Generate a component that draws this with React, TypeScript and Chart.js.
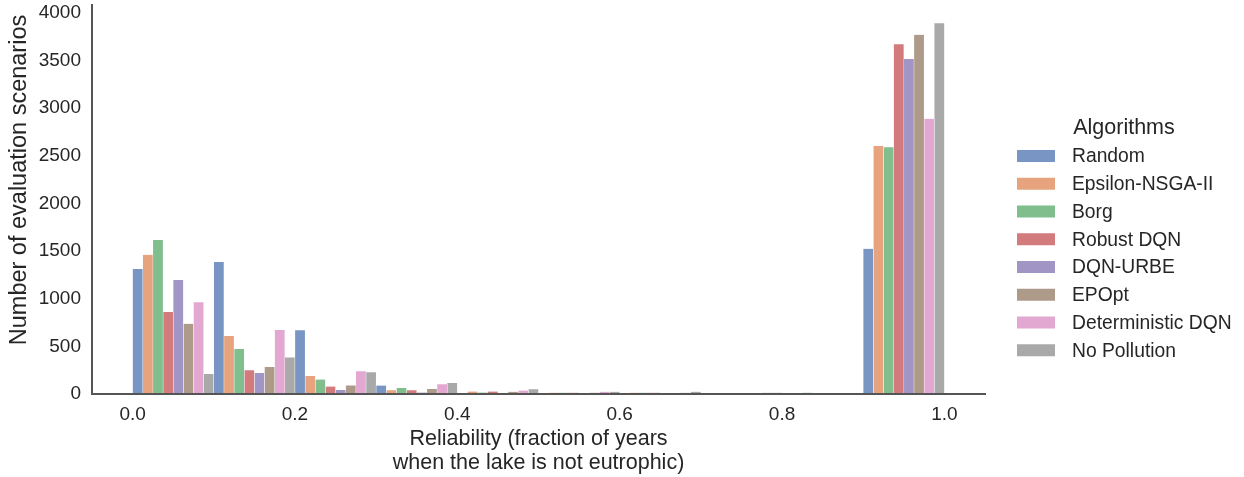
import { useEffect, useRef } from "react";
import { Chart, registerables } from "chart.js";

Chart.register(...registerables);

// ---- data ----
const binEdges = [0, 0.1, 0.2, 0.3, 0.4, 0.5, 0.6, 0.7, 0.8, 0.9, 1.0];
const algorithms = [
  "Random",
  "Epsilon-NSGA-II",
  "Borg",
  "Robust DQN",
  "DQN-URBE",
  "EPOpt",
  "Deterministic DQN",
  "No Pollution",
];
const randomCounts = [1312, 1386, 668, 88, 0, 0, 0, 0, 0, 1525];
const epsilonCounts = [1462, 609, 189, 39, 25, 14, 14, 0, 0, 2603];
const borgCounts = [1617, 472, 151, 63, 15, 14, 14, 0, 14, 2589];
const robustDqnCounts = [861, 248, 78, 39, 25, 14, 14, 0, 0, 3671];
const dqnUrbeCounts = [1197, 220, 42, 15, 0, 0, 0, 0, 0, 3517];
const epoptCounts = [738, 283, 90, 52, 24, 14, 0, 0, 0, 3772];
const deterministicDqnCounts = [962, 672, 238, 101, 37, 24, 14, 14, 0, 2890];
const noPollutionCounts = [210, 384, 228, 115, 50, 24, 24, 14, 0, 3891];
const seriesCounts = [
  randomCounts,
  epsilonCounts,
  borgCounts,
  robustDqnCounts,
  dqnUrbeCounts,
  epoptCounts,
  deterministicDqnCounts,
  noPollutionCounts,
];
const colors = [
  "rgba(76,114,176,0.75)",
  "rgba(221,132,82,0.75)",
  "rgba(85,168,104,0.75)",
  "rgba(196,78,82,0.75)",
  "rgba(129,114,179,0.75)",
  "rgba(147,120,96,0.75)",
  "rgba(218,139,195,0.75)",
  "rgba(140,140,140,0.75)",
];
const xTicks = [0, 0.2, 0.4, 0.6, 0.8, 1.0];
const yTicks = [0, 500, 1000, 1500, 2000, 2500, 3000, 3500, 4000];
const legendTitle = "Algorithms";
const xTitle = ["Reliability (fraction of years", "when the lake is not eutrophic)"];
const yTitle = "Number of evaluation scenarios";

// ---- style ----
const FONT = "'Liberation Sans', Arial, Helvetica, sans-serif";
const TEXT = "#262626";
const SPINE = "#555555";

const sideLegend = {
  id: "sideLegend",
  afterDraw(chart: any) {
    const ctx = chart.ctx;
    const x0 = chart.chartArea.right + 32;
    ctx.save();
    ctx.fillStyle = TEXT;
    ctx.textBaseline = "middle";
    ctx.textAlign = "center";
    ctx.font = `21.5px ${FONT}`;
    ctx.fillText(legendTitle, x0 + 107, 128.5);
    ctx.font = `19.3px ${FONT}`;
    ctx.textAlign = "left";
    chart.data.datasets.forEach((ds: any, i: number) => {
      const y = 156 + i * 27.75;
      ctx.fillStyle = ds.backgroundColor;
      ctx.fillRect(x0, y - 6, 38, 12);
      ctx.fillStyle = TEXT;
      ctx.fillText(ds.label, x0 + 55, y + 1);
    });
    // y axis title
    ctx.translate(20, 180);
    ctx.rotate(-Math.PI / 2);
    ctx.textAlign = "center";
    ctx.font = `23.5px ${FONT}`;
    ctx.fillStyle = TEXT;
    ctx.fillText(yTitle, 0, 0);
    ctx.restore();
  },
};

export default function App() {
  const ref = useRef<HTMLCanvasElement | null>(null);

  useEffect(() => {
    if (!ref.current) return;
    const centers = binEdges.slice(0, -1).map((e, i) => (e + binEdges[i + 1]) / 2);
    const datasets = algorithms.map((name, k) => ({
      label: name,
      data: centers.map((c, i) => ({ x: c, y: seriesCounts[k][i] })),
      backgroundColor: colors[k],
      borderColor: "#ffffff",
      borderWidth: { left: 0.5, right: 0.5, top: 0.3, bottom: 0 },
      categoryPercentage: 1,
      barPercentage: 1,
    }));

    const chart = new Chart(ref.current, {
      type: "bar",
      data: { datasets },
      plugins: [sideLegend],
      options: {
        animation: false,
        responsive: false,
        layout: { padding: { top: 5, right: 259, left: 0, bottom: 0 } },
        plugins: { legend: { display: false }, tooltip: { enabled: false } },
        scales: {
          x: {
            type: "linear",
            min: -0.05,
            max: 1.05,
            offset: false,
            grid: { display: false, drawTicks: false, offset: false },
            border: { display: true, color: SPINE, width: 2, z: 1 },
            afterBuildTicks: (scale: any) => {
              scale.ticks = xTicks.map((v) => ({ value: v }));
            },
            afterFit: (scale: any) => {
              scale.height = 83;
              scale.paddingLeft = 0;
              scale.paddingRight = 0;
            },
            ticks: {
              padding: 9,
              color: TEXT,
              font: { family: FONT, size: 19 },
              callback: (v: any) => Number(v).toFixed(1),
            },
            title: {
              display: true,
              text: xTitle,
              color: TEXT,
              font: { family: FONT, size: 21.5, lineHeight: 24 / 21.5 },
              padding: { top: 0, bottom: 2 },
            },
          },
          y: {
            min: 0,
            max: 4084,
            grid: { display: false, drawTicks: false },
            border: { display: true, color: SPINE, width: 2, z: 1 },
            afterBuildTicks: (scale: any) => {
              scale.ticks = yTicks.map((v) => ({ value: v }));
            },
            afterFit: (scale: any) => {
              scale.width = 92;
              scale.paddingTop = 0;
              scale.paddingBottom = 0;
            },
            ticks: {
              padding: 11,
              color: TEXT,
              font: { family: FONT, size: 19 },
              callback: (v: any) => String(v),
            },
            title: { display: false },
          },
        },
      },
    } as any);
    return () => chart.destroy();
  }, []);

  return (
    <div style={{ position: "absolute", left: 0, top: 0, width: 1244, height: 477, background: "#fff" }}>
      <canvas ref={ref} width={1244} height={477} style={{ width: 1244, height: 477, display: "block" }} />
    </div>
  );
}
